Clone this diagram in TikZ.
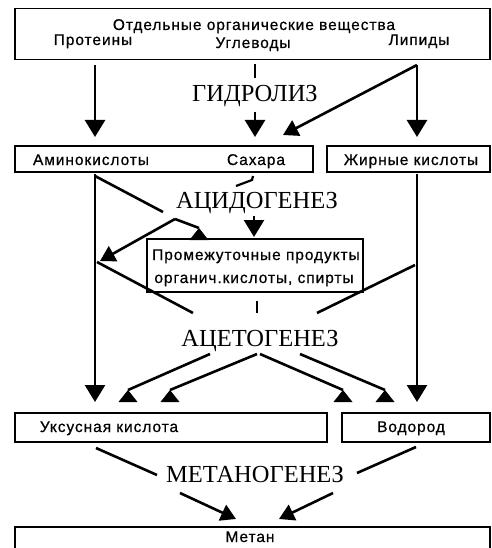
\documentclass[tikz,border=0pt]{standalone}
\usepackage{fontspec}
\setmainfont{Liberation Serif}
\setsansfont{Liberation Sans}
\usetikzlibrary{arrows.meta}
\begin{document}
\begin{tikzpicture}[x=1pt,y=-1pt,
  box/.style={draw, line width=1.5pt, inner sep=0pt},
  lbl/.style={font=\fontsize{15.5}{18}\sffamily\addfontfeatures{LetterSpace=6,FakeBold=0.6}, anchor=base, inner sep=0pt},
  stage/.style={font=\fontsize{24.5}{26}\selectfont, anchor=base, inner sep=0pt},
  ln/.style={line width=2.6pt},
  arr/.style={ln, -{Triangle[width=20pt,length=17pt]}},
  darr/.style={ln, -{Triangle[width=17pt,length=15pt]}},
  uptri/.pic={\fill (0,0) -- (-9.5,12) -- (9.5,12) -- cycle;}
]
\useasboundingbox (0,0) rectangle (491,548);
\clip (0,0) rectangle (491,548);
\fill[white] (0,0) rectangle (491,548);

% boxes
\node[box, minimum width=475pt, minimum height=51pt] (top) at (252.5,34) {};
\node[box, minimum width=298pt, minimum height=26pt] (amsug) at (164,159) {};
\node[box, minimum width=163pt, minimum height=26pt] (fat) at (408.5,159) {};
\node[box, minimum width=216pt, minimum height=53pt] (inter) at (255,265.5) {};
\node[box, minimum width=312pt, minimum height=29pt] (acetic) at (171,427.5) {};
\node[box, minimum width=148pt, minimum height=29pt] (hydro) at (416,427.5) {};
\node[box, minimum width=475pt, minimum height=40pt] (methane) at (252.5,547) {};

% texts
\node[lbl] (tTitle) at (254,30) {Отдельные органические вещества};
\node[lbl] (tProt) at (93,45) {Протеины};
\node[lbl] (tCarb) at (253,48) {Углеводы};
\node[lbl] (tLip) at (419,45) {Липиды};
\node[lbl] (tAmino) at (91,165) {Аминокислоты};
\node[lbl] (tSugar) at (256,165) {Сахара};
\node[lbl] (tFat) at (411,165) {Жирные кислоты};
\node[lbl] (tInter1) at (256,260) {Промежуточные продукты};
\node[lbl] (tInter2) at (254,283) {органич.кислоты, спирты};
\node[lbl] (tAcetic) at (109,432) {Уксусная кислота};
\node[lbl] (tHydro) at (411,432) {Водород};
\node[lbl] (tMethane) at (250,542) {Метан};

% stage labels
\node[stage] (sHyd) at (255,102) {ГИДРОЛИЗ};
\node[stage] (sAcid) at (257,208) {АЦИДОГЕНЕЗ};
\node[stage] (sAcet) at (260,346) {АЦЕТОГЕНЕЗ};
\node[stage] (sMeth) at (255,482) {МЕТАНОГЕНЕЗ};

% hydrolysis
\coordinate (pTop) at (95,65);
\coordinate (pTip) at (95,137);
\coordinate (cTop) at (255,64);
\coordinate (cMid) at (255,78);
\coordinate (cLow) at (255,112);
\coordinate (cTip) at (255,137);
\coordinate (lipFork) at (417,65);
\coordinate (lTip) at (417,137);
\coordinate (sugTip) at (283,135);
\draw[arr] (pTop) -- (pTip);
\draw[ln] (cTop) -- (cMid);
\draw[arr] (cLow) -- (cTip);
\draw[arr] (lipFork) -- (lTip);
\draw[darr] (lipFork) -- (sugTip);

% acidogenesis
\coordinate (aTL) at (95,176);
\coordinate (aD) at (163,212);
\coordinate (apex) at (175,219);
\coordinate (leftTip) at (100,261);
\coordinate (rightTip) at (199,228);
\coordinate (hk1) at (236,186);
\coordinate (hk2) at (252,180);
\coordinate (hk3) at (253,176);
\coordinate (sTop) at (254,216);
\coordinate (sTip) at (254,237);
\draw[ln] (aTL) -- (aD);
\draw[darr] (apex) -- (leftTip);
\draw[ln] (apex) -- (rightTip);
\pic at (rightTip) {uptri};
\draw[line width=2.2pt] (hk1) -- (hk2) -- (hk3);
\draw[arr] (sTop) -- (sTip);

% long verticals
\coordinate (vL1) at (95,174);
\coordinate (vL2) at (95,402);
\coordinate (vR1) at (417,174);
\coordinate (vR2) at (417,402);
\draw[arr] (vL1) -- (vL2);
\draw[arr] (vR1) -- (vR2);

% X lines
\coordinate (x1) at (97,262);
\coordinate (x2) at (193,313);
\coordinate (x3) at (415,265);
\coordinate (x4) at (317,313);
\coordinate (d1) at (257,301);
\coordinate (d2) at (257,313);
\draw[ln] (x1) -- (x2);
\draw[ln] (x3) -- (x4);
\draw[ln] (d1) -- (d2);

% acetogenesis fans
\coordinate (f1) at (210,354);
\coordinate (f2) at (257,354);
\coordinate (f3) at (260,354);
\coordinate (f4) at (300,354);
\coordinate (t1) at (128,390);
\coordinate (t2) at (170,390);
\coordinate (t3) at (343,390);
\coordinate (t4) at (385,390);
\draw[ln] (f1) -- (t1); \pic at (t1) {uptri};
\draw[ln] (f2) -- (t2); \pic at (t2) {uptri};
\draw[ln] (f3) -- (t3); \pic at (t3) {uptri};
\draw[ln] (f4) -- (t4); \pic at (t4) {uptri};

% methanogenesis
\coordinate (m1) at (96,448);
\coordinate (m2) at (157,475);
\coordinate (m3) at (416,447);
\coordinate (m4) at (357,473);
\coordinate (m5) at (180,493);
\coordinate (m6) at (236,519);
\coordinate (m7) at (333,493);
\coordinate (m8) at (279,519);
\draw[ln] (m1) -- (m2);
\draw[ln] (m3) -- (m4);
\draw[darr] (m5) -- (m6);
\draw[darr] (m7) -- (m8);
\end{tikzpicture}
\end{document}
